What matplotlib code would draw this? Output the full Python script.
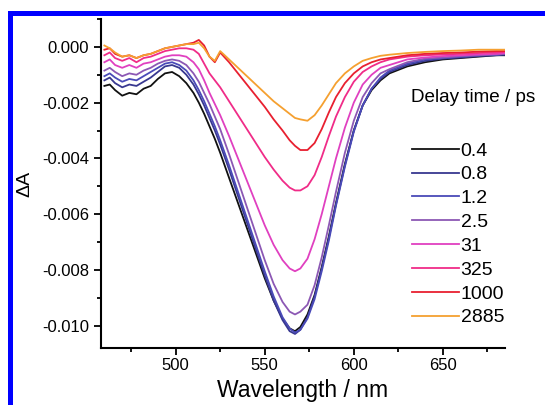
import numpy as np
import matplotlib.pyplot as plt
from matplotlib.patches import Rectangle
from matplotlib.ticker import MultipleLocator, FuncFormatter

plt.rcParams["font.family"] = ["Liberation Sans", "DejaVu Sans"]
plt.rcParams["axes.unicode_minus"] = False

# wavelength grid (nm)
wavelength = [460, 463, 466, 470, 474, 478, 482, 486, 490, 494, 498, 502, 506, 510,
              513, 516, 519, 522, 525, 530, 535, 540, 545, 550, 555, 560, 564, 567,
              570, 574, 578, 582, 586, 590, 595, 600, 605, 610, 615, 620, 630, 640,
              650, 660, 670, 680, 685]

# dA in units of 1e-3
d_0p4 = [-1.40, -1.35, -1.55, -1.75, -1.65, -1.70, -1.50, -1.40, -1.15, -0.95, -0.90, -1.05, -1.30, -1.65,
         -2.00, -2.40, -2.85, -3.30, -3.80, -4.70, -5.60, -6.50, -7.40, -8.30, -9.10, -9.75, -10.10, -10.20,
         -10.05, -9.60, -8.90, -7.90, -6.80, -5.60, -4.20, -3.00, -2.10, -1.55, -1.20, -0.95, -0.70, -0.55,
         -0.45, -0.40, -0.35, -0.30, -0.30]
d_0p8 = [-1.20, -1.10, -1.30, -1.45, -1.35, -1.40, -1.25, -1.10, -0.90, -0.70, -0.65, -0.75, -1.00, -1.35,
         -1.70, -2.10, -2.55, -3.00, -3.50, -4.40, -5.35, -6.30, -7.25, -8.20, -9.10, -9.80, -10.20, -10.30,
         -10.15, -9.70, -8.95, -7.95, -6.85, -5.65, -4.25, -3.00, -2.10, -1.50, -1.15, -0.90, -0.65, -0.50,
         -0.42, -0.38, -0.33, -0.30, -0.28]
d_1p2 = [-1.05, -0.95, -1.10, -1.25, -1.15, -1.20, -1.05, -0.90, -0.75, -0.60, -0.55, -0.65, -0.85, -1.20,
         -1.55, -1.95, -2.40, -2.85, -3.35, -4.25, -5.20, -6.15, -7.10, -8.05, -8.95, -9.70, -10.10, -10.25,
         -10.15, -9.75, -9.05, -8.05, -6.95, -5.70, -4.30, -3.05, -2.10, -1.50, -1.10, -0.85, -0.60, -0.45,
         -0.40, -0.35, -0.30, -0.28, -0.25]
d_2p5 = [-0.85, -0.75, -0.90, -1.05, -0.95, -1.00, -0.85, -0.75, -0.60, -0.50, -0.45, -0.50, -0.65, -0.95,
         -1.25, -1.65, -2.05, -2.50, -2.95, -3.85, -4.80, -5.75, -6.70, -7.65, -8.50, -9.15, -9.50, -9.60,
         -9.50, -9.25, -8.55, -7.55, -6.40, -5.20, -3.80, -2.65, -1.80, -1.30, -0.95, -0.80, -0.55, -0.42,
         -0.38, -0.33, -0.30, -0.27, -0.25]
d_31 = [-0.55, -0.45, -0.65, -0.75, -0.65, -0.75, -0.60, -0.55, -0.45, -0.35, -0.30, -0.30, -0.35, -0.55,
        -0.80, -1.20, -1.65, -2.05, -2.45, -3.20, -4.00, -4.80, -5.60, -6.40, -7.10, -7.65, -7.95, -8.05,
        -7.95, -7.60, -6.90, -6.00, -5.00, -4.00, -2.90, -2.00, -1.35, -1.00, -0.75, -0.65, -0.45, -0.38,
        -0.33, -0.30, -0.27, -0.25, -0.22]
d_325 = [-0.30, -0.20, -0.40, -0.50, -0.40, -0.55, -0.40, -0.35, -0.25, -0.15, -0.10, -0.05, -0.05, -0.10,
         -0.25, -0.60, -0.95, -1.20, -1.45, -1.95, -2.45, -2.95, -3.45, -3.95, -4.40, -4.80, -5.05, -5.15,
         -5.15, -5.00, -4.60, -3.95, -3.20, -2.50, -1.80, -1.25, -0.90, -0.70, -0.55, -0.45, -0.35, -0.30,
         -0.27, -0.25, -0.22, -0.20, -0.18]
d_1000 = [-0.10, -0.05, -0.25, -0.35, -0.30, -0.40, -0.30, -0.25, -0.15, -0.05, 0.00, 0.05, 0.10, 0.15,
          0.25, 0.05, -0.35, -0.55, -0.20, -0.55, -0.95, -1.35, -1.75, -2.15, -2.60, -3.00, -3.35, -3.55,
          -3.70, -3.70, -3.45, -2.95, -2.35, -1.80, -1.30, -0.95, -0.70, -0.55, -0.45, -0.40, -0.30, -0.25,
          -0.22, -0.20, -0.17, -0.15, -0.15]
d_2885 = [0.05, -0.05, -0.20, -0.35, -0.30, -0.40, -0.30, -0.25, -0.15, -0.05, 0.00, 0.05, 0.10, 0.10,
          0.15, -0.05, -0.35, -0.50, -0.15, -0.45, -0.75, -1.05, -1.35, -1.65, -1.95, -2.20, -2.40, -2.55,
          -2.60, -2.65, -2.45, -2.10, -1.70, -1.30, -0.95, -0.70, -0.50, -0.40, -0.32, -0.28, -0.22, -0.18,
          -0.15, -0.13, -0.10, -0.10, -0.10]

labels = ["0.4", "0.8", "1.2", "2.5", "31", "325", "1000", "2885"]
series = [d_0p4, d_0p8, d_1p2, d_2p5, d_31, d_325, d_1000, d_2885]
colors = ["#111111", "#383890", "#4a4ab8", "#8c58b4", "#e040c0", "#f02c88", "#e82030", "#f5a030"]

fig = plt.figure(figsize=(5.45, 4.05), dpi=100)
ax = fig.add_axes([0.185, 0.141, 0.742, 0.812])

wl = np.array(wavelength)
for lab, ys, c in zip(labels, series, colors):
    ax.plot(wl, np.array(ys) * 1e-3, color=c, lw=1.3, label=lab)

ax.set_xlim(458, 685)
ax.set_ylim(-0.0108, 0.001)
ax.xaxis.set_major_locator(MultipleLocator(50))
ax.xaxis.set_minor_locator(MultipleLocator(25))
ax.yaxis.set_major_locator(MultipleLocator(0.002))
ax.yaxis.set_minor_locator(MultipleLocator(0.001))
ax.yaxis.set_major_formatter(FuncFormatter(lambda v, p: f"{v:.3f}".replace("-0.000", "0.000")))
ax.spines["top"].set_visible(False)
ax.spines["right"].set_visible(False)
for s in ["left", "bottom"]:
    ax.spines[s].set_linewidth(1.5)
ax.tick_params(which="major", direction="out", length=5, width=1.3, labelsize=12)
ax.tick_params(axis="x", which="major", pad=2.5)
ax.tick_params(which="minor", direction="out", length=3, width=1.3)

ax.set_xlabel("Wavelength / nm", fontsize=16.5, labelpad=4)
ax.set_ylabel("ΔA", fontsize=14, labelpad=6)

fig.text(411 / 545, 1 - 98 / 405, "Delay time / ps", fontsize=13.6, va="center", ha="left")
ax.legend(loc="upper left", bbox_to_anchor=(412 / 545, 1 - 142 / 405), bbox_transform=fig.transFigure,
          frameon=False, fontsize=14, handlelength=2.4, handletextpad=0.1, labelspacing=0.32,
          borderpad=0, borderaxespad=0)

# blue frame around the panel
fig.patches.append(Rectangle((9.5 / 545, -0.1), 1.2, 1 - 12.5 / 405 + 0.1, transform=fig.transFigure,
                             fill=False, edgecolor="#0000ff", lw=3.6))

fig.savefig("out.png", dpi=100)
